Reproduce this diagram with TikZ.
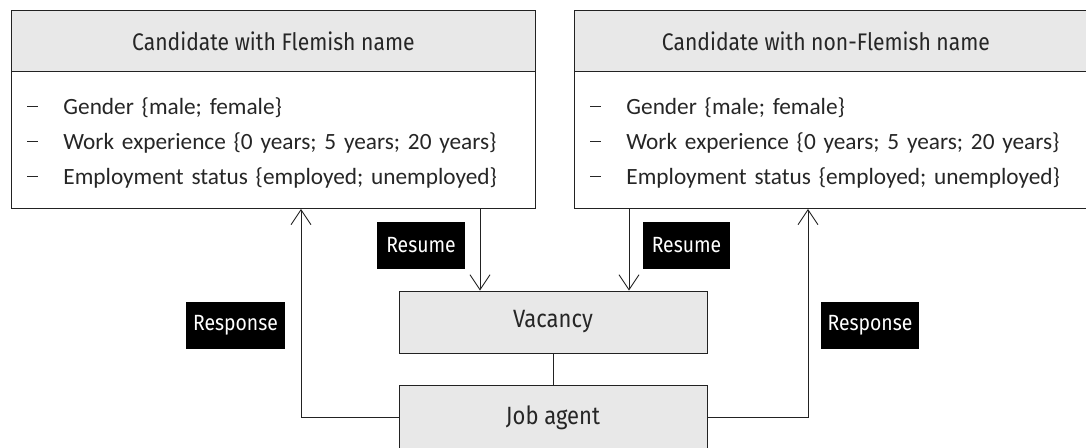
\documentclass[tikz,border=0pt]{standalone}
\usepackage{fontspec}
\setmainfont{Carlito}
\newfontfamily\condfont[FakeStretch=0.88]{Fira Sans}
\usetikzlibrary{arrows.meta}
\definecolor{boxgray}{HTML}{E8E8E8}
\definecolor{edge}{HTML}{222222}

\tikzset{
  outline/.style={draw=edge, line width=0.9pt},
  headbox/.style={outline, fill=boxgray, anchor=north west, inner sep=0pt,
    font=\condfont\fontsize{24}{28}\selectfont, text=black!85},
  bodybox/.style={outline, fill=white, anchor=north west, inner xsep=16pt, inner ysep=0pt,
    align=left, font=\fontsize{23.3}{35}\selectfont, text=black!85},
  centerbox/.style={outline, fill=boxgray, inner sep=0pt,
    minimum width=308pt, font=\condfont\fontsize{25}{28}\selectfont, text=black!85},
  tag/.style={fill=black, text=white, inner sep=0pt, minimum height=47pt,
    font=\condfont\fontsize{22}{24}\selectfont},
  flow/.style={draw=edge, line width=0.9pt,
    -{Straight Barb[length=15pt, width=20pt, line width=0.9pt]}},
  link/.style={draw=edge, line width=0.9pt},
}

% list entry: a raised dash, then the entry text
\newcommand{\itm}[1]{\makebox[36pt][l]{\raisebox{7pt}{\rule{11pt}{0.9pt}}}#1}

\begin{document}
\begin{tikzpicture}[x=1pt, y=-1pt]
\useasboundingbox (0,0) rectangle (1086,447);
\clip (0,0) rectangle (1086,447);

% candidate boxes
\node[headbox, minimum width=524pt, minimum height=61pt] (lhead) at (11,10)
  {Candidate with Flemish name};
\node[bodybox, text width=492pt, minimum height=137pt] (lbody) at (11,71)
  {\\[-13pt]\itm{Gender \{male; female\}}\\
   \itm{Work experience \{0 years; 5 years; 20 years\}}\\
   \itm{Employment status \{employed; unemployed\}}};

\node[headbox, minimum width=516pt, minimum height=61pt] (rhead) at (574,10)
  {\hspace*{-13pt}Candidate with non-Flemish name};
\node[bodybox, text width=484pt, minimum height=137pt] (rbody) at (574,71)
  {\\[-13pt]\itm{Gender \{male; female\}}\\
   \itm{Work experience \{0 years; 5 years; 20 years\}}\\
   \itm{Employment status \{employed; unemployed\}}};

% central boxes
\node[centerbox, minimum height=62pt] (vac) at (553,322) {Vacancy};
\node[centerbox, minimum height=65pt] (job) at (553,417.5) {Job agent};

% connector columns
\coordinate (resL) at (480,0);
\coordinate (resR) at (629,0);
\coordinate (rspL) at (301,0);
\coordinate (rspR) at (808,0);

\draw[flow] (lbody.south -| resL) -- (vac.north -| resL);
\draw[flow] (rbody.south -| resR) -- (vac.north -| resR);
\draw[link] (vac.south) -- (job.north);
\draw[flow] (job.west) -- (job.west -| rspL) -- (lbody.south -| rspL);
\draw[flow] (job.east) -- (job.east -| rspR) -- (rbody.south -| rspR);

% labels
\node[tag, minimum width=88pt] (tResL) at (421,245.5) {Resume};
\node[tag, minimum width=87pt] (tResR) at (686.5,245.5) {Resume};
\node[tag, minimum width=99pt] (tRspL) at (235.5,325.5) {Response};
\node[tag, minimum width=98pt] (tRspR) at (870,325.5) {Response};
\end{tikzpicture}
\end{document}
